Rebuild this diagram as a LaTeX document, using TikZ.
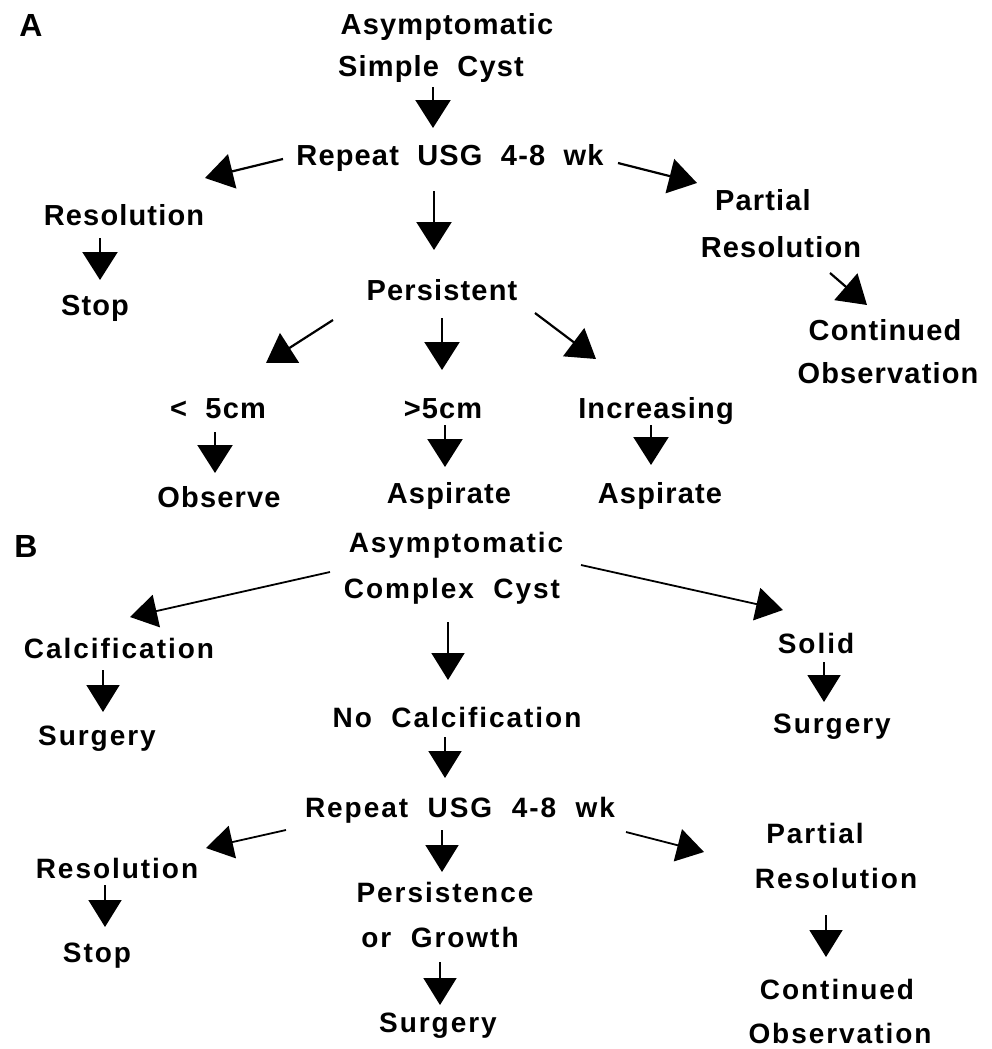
\documentclass[tikz,border=0pt]{standalone}
\usepackage{fontspec}
\setmainfont{Liberation Sans}
\newfontfamily\fa[LetterSpace=4,WordSpace=2]{Liberation Sans}
\newfontfamily\fb[LetterSpace=7,WordSpace=2]{Liberation Sans}
\usetikzlibrary{arrows.meta,calc}
\tikzset{
  ta/.style={anchor=base, inner sep=0pt, font=\fa\bfseries\fontsize{29}{34}\selectfont},
  tb/.style={anchor=base, inner sep=0pt, font=\fb\bfseries\fontsize{28}{32}\selectfont},
  lab/.style={anchor=base, inner sep=0pt, font=\fa\bfseries\fontsize{32}{36}\selectfont},
  arr/.style={line width=2.2pt, -{Triangle[length=28pt,width=35pt]}},
  arrb/.style={line width=1.8pt, -{Triangle[length=27pt,width=33pt]}},
}
\begin{document}
\begin{tikzpicture}[x=1pt,y=-1pt]
\useasboundingbox (0,0) rectangle (991,1049);
% ---------- A ----------
\node[lab] (labA) at (31,37) {A};
\node[ta] (a1) at (447,35) {Asymptomatic};
\node[ta] (a2) at (431,77) {Simple Cyst};
\node[ta] (arep) at (450,165) {Repeat USG 4-8 wk};
\node[ta] (ares) at (124,225) {Resolution};
\node[ta] (astop) at (95,315) {Stop};
\node[ta] (apers) at (442,300) {Persistent};
\node[ta] (apart) at (763,210) {Partial};
\node[ta] (apres) at (781,257) {Resolution};
\node[ta] (acont) at (885,340) {Continued};
\node[ta] (aobs) at (888,383) {Observation};
\node[ta] (alt) at (218,418) {< 5cm};
\node[ta] (agt) at (443,418) {>5cm};
\node[ta] (ainc) at (656,418) {Increasing};
\node[ta] (aobsv) at (219,507) {Observe};
\node[ta] (aasp1) at (449,503) {Aspirate};
\node[ta] (aasp2) at (660,503) {Aspirate};

\draw[arr] ($(a2.base)+(2,10)$) -- ($(arep.base)+(-17,-37)$);
\draw[arr] ($(arep.base)+(-167,-6)$) -- ($(ares.base)+(81,-47)$);
\draw[arr] ($(arep.base)+(-16,26)$) -- ($(apers.base)+(-8,-50)$);
\draw[arr] ($(ares.base)+(-24,13)$) -- ($(astop.base)+(5,-35)$);
\draw[arr] ($(arep.base)+(168,-2)$) -- ($(apart.base)+(-66,-27)$);
\draw[arr] ($(apres.base)+(49,16)$) -- ($(acont.base)+(-18,-35)$);
\draw[arr] ($(apers.base)+(-109,20)$) -- ($(alt.base)+(48,-55)$);
\draw[arr] ($(apers.base)+(0,18)$) -- ($(agt.base)+(-1,-48)$);
\draw[arr] ($(apers.base)+(93,13)$) -- ($(ainc.base)+(-60,-59)$);
\draw[arr] ($(alt.base)+(-3,14)$) -- ($(aobsv.base)+(-4,-34)$);
\draw[arr] ($(agt.base)+(2,7)$) -- ($(aasp1.base)+(-4,-36)$);
\draw[arr] ($(ainc.base)+(-5,7)$) -- ($(aasp2.base)+(-9,-38)$);

% ---------- B ----------
\node[lab] (labB) at (26,557) {B};
\node[tb] (b1) at (456,552) {Asymptomatic};
\node[tb] (b2) at (452,598) {Complex Cyst};
\node[tb] (bcalc) at (119,658) {Calcification};
\node[tb] (bsurg1) at (97,745) {Surgery};
\node[tb] (bsolid) at (816,653) {Solid};
\node[tb] (bsurg2) at (832,733) {Surgery};
\node[tb] (bnocalc) at (457,727) {No Calcification};
\node[tb] (brep) at (460,817) {Repeat USG 4-8 wk};
\node[tb] (bres) at (117,878) {Resolution};
\node[tb] (bstop) at (97,962) {Stop};
\node[tb] (bpers) at (445,902) {Persistence};
\node[tb] (bgrow) at (440,947) {or Growth};
\node[tb] (bsurg3) at (438,1032) {Surgery};
\node[tb] (bpart) at (815,843) {Partial};
\node[tb] (bpres) at (836,888) {Resolution};
\node[tb] (bcont) at (837,999) {Continued};
\node[tb] (bobs) at (840,1043) {Observation};

\draw[arrb] ($(b2.base)+(-122,-26)$) -- ($(bcalc.base)+(11,-41)$);
\draw[arrb] ($(b2.base)+(129,-33)$) -- ($(bsolid.base)+(-33,-43)$);
\draw[arrb] ($(b2.base)+(-4,24)$) -- ($(bnocalc.base)+(-9,-47)$);
\draw[arrb] ($(bcalc.base)+(-16,12)$) -- ($(bsurg1.base)+(6,-33)$);
\draw[arrb] ($(bsolid.base)+(8,9)$) -- ($(bsurg2.base)+(-8,-31)$);
\draw[arrb] ($(bnocalc.base)+(-12,10)$) -- ($(brep.base)+(-15,-39)$);
\draw[arrb] ($(brep.base)+(-174,13)$) -- ($(bres.base)+(89,-30)$);
\draw[arrb] ($(brep.base)+(-18,13)$) -- ($(bpers.base)+(-3,-30)$);
\draw[arrb] ($(brep.base)+(166,15)$) -- ($(bpart.base)+(-111,9)$);
\draw[arrb] ($(bres.base)+(-12,7)$) -- ($(bstop.base)+(8,-35)$);
\draw[arrb] ($(bgrow.base)+(0,15)$) -- ($(bsurg3.base)+(2,-27)$);
\draw[arrb] ($(bpres.base)+(-10,27)$) -- ($(bcont.base)+(-11,-42)$);
\end{tikzpicture}
\end{document}
